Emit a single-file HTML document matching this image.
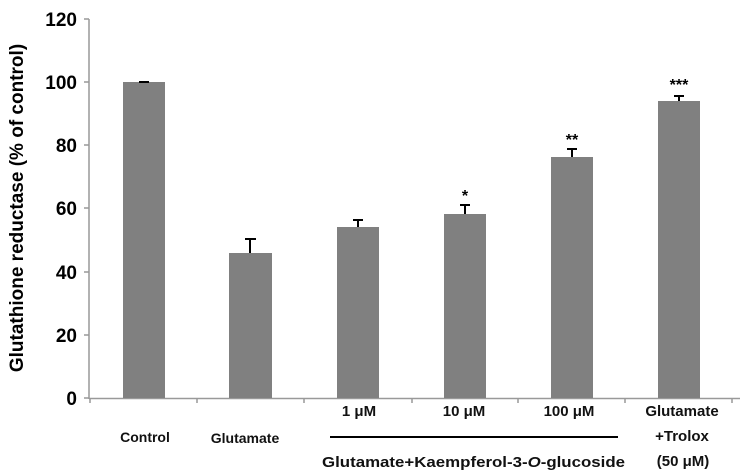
<!DOCTYPE html>
<html><head><meta charset="utf-8"><style>
body{margin:0;background:#fff}
svg{display:block;font-family:"Liberation Sans",Arial,sans-serif}
</style></head><body>
<svg width="740" height="473" viewBox="0 0 740 473" xmlns="http://www.w3.org/2000/svg">
<g stroke="#999" stroke-width="1.5" fill="none">
<line x1="89" y1="19" x2="89" y2="399"/>
<line x1="89" y1="398.5" x2="740" y2="398.5"/>
<line x1="84" y1="19" x2="89" y2="19"/><line x1="84" y1="82" x2="89" y2="82"/><line x1="84" y1="145" x2="89" y2="145"/><line x1="84" y1="208" x2="89" y2="208"/><line x1="84" y1="272" x2="89" y2="272"/><line x1="84" y1="335" x2="89" y2="335"/><line x1="84" y1="398" x2="89" y2="398"/>
<line x1="90" y1="398" x2="90" y2="403"/><line x1="197" y1="398" x2="197" y2="403"/><line x1="304" y1="398" x2="304" y2="403"/><line x1="412" y1="398" x2="412" y2="403"/><line x1="518" y1="398" x2="518" y2="403"/><line x1="625" y1="398" x2="625" y2="403"/><line x1="732" y1="398" x2="732" y2="403"/>
</g>
<g font-size="19" font-weight="bold" text-anchor="end" fill="#000">
<text x="77" y="26">120</text><text x="77" y="89">100</text><text x="77" y="152">80</text><text x="77" y="215">60</text><text x="77" y="279">40</text><text x="77" y="342">20</text><text x="77" y="405">0</text>
</g>
<text transform="translate(23,208) rotate(-90)" font-size="19" font-weight="bold" text-anchor="middle">Glutathione reductase (% of control)</text>
<g fill="#808080">
<rect x="123" y="82" width="42" height="316"/>
<rect x="229" y="253" width="43" height="145"/>
<rect x="337" y="227" width="42" height="171"/>
<rect x="444" y="214" width="42" height="184"/>
<rect x="551" y="157" width="42" height="241"/>
<rect x="658" y="101" width="42" height="297"/>
</g>
<g stroke="#000" stroke-width="2">
<line x1="139" y1="82" x2="149" y2="82"/>
<line x1="250" y1="239" x2="250" y2="253"/><line x1="245" y1="239" x2="256" y2="239"/>
<line x1="358" y1="220" x2="358" y2="227"/><line x1="353" y1="220" x2="363" y2="220"/>
<line x1="465" y1="205" x2="465" y2="214"/><line x1="460" y1="205" x2="470" y2="205"/>
<line x1="572" y1="149" x2="572" y2="157"/><line x1="567" y1="149" x2="577" y2="149"/>
<line x1="679" y1="96" x2="679" y2="101"/><line x1="674" y1="96" x2="684" y2="96"/>
</g>
<g font-size="16" font-weight="bold" text-anchor="middle">
<text x="465" y="201">*</text><text x="572" y="145">**</text><text x="679" y="90">***</text>
</g>
<g font-size="14" font-weight="bold" fill="#111" text-anchor="middle">
<text x="145" y="442">Control</text>
<text x="245" y="443">Glutamate</text>
<text x="359" y="416" font-size="15">1 μM</text>
<text x="464" y="416" font-size="15">10 μM</text>
<text x="569" y="416" font-size="15">100 μM</text>
<text x="682" y="416" font-size="15">Glutamate</text>
<text x="682" y="441" font-size="15">+Trolox</text>
<text x="683" y="466" font-size="15">(50 μM)</text>
</g>
<text x="322" y="467" font-size="15" font-weight="bold" fill="#111" textLength="303" lengthAdjust="spacingAndGlyphs">Glutamate+Kaempferol-3-<tspan font-style="italic">O</tspan>-glucoside</text>
<line x1="330" y1="437" x2="618" y2="437" stroke="#000" stroke-width="2"/>
</svg>
</body></html>
